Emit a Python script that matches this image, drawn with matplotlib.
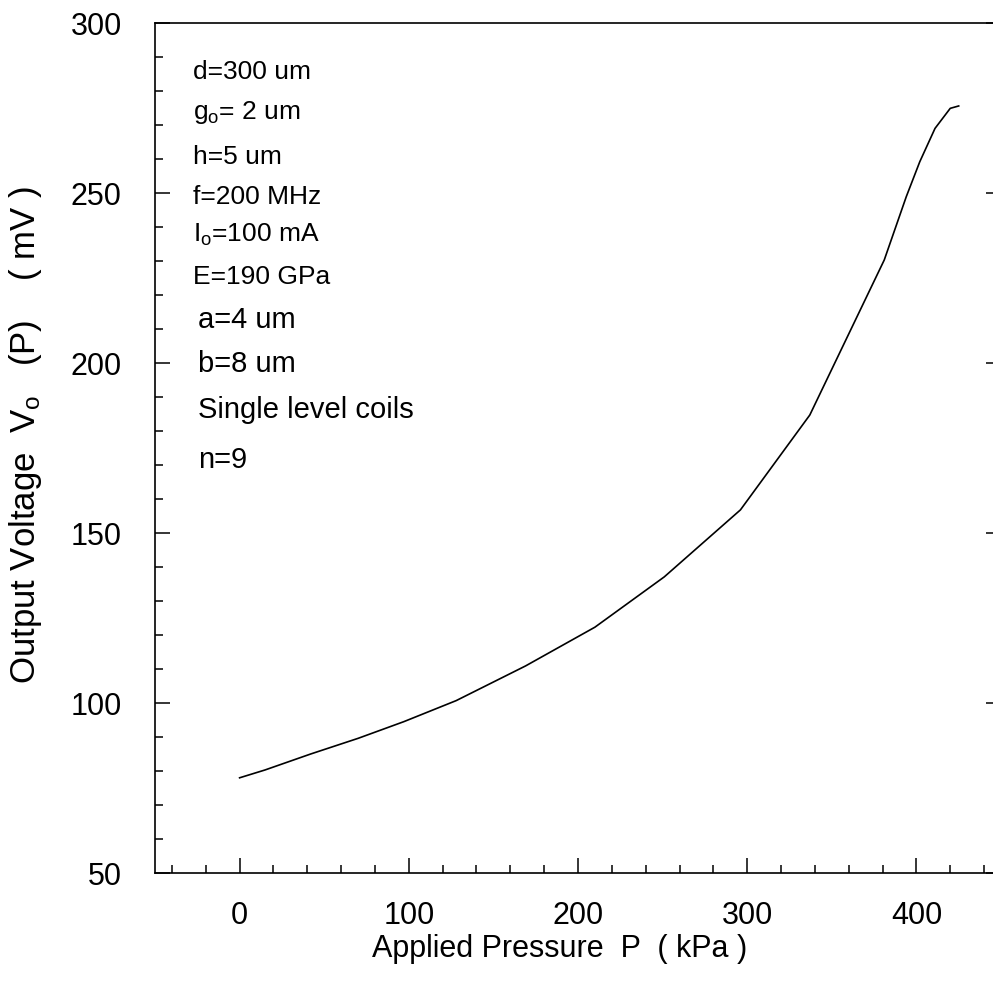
import matplotlib
matplotlib.use("Agg")
import matplotlib.pyplot as plt
from matplotlib.ticker import MultipleLocator

plt.rcParams['font.family'] = ['Liberation Sans', 'DejaVu Sans']
plt.rcParams['mathtext.fontset'] = 'custom'
plt.rcParams['mathtext.rm'] = 'Liberation Sans'
plt.rcParams['mathtext.it'] = 'Liberation Sans'

# data
pressure = [0, 15, 42, 70, 97, 128, 169, 210, 251, 296, 337, 381, 394, 402, 411, 420, 425]
voltage = [78.0, 80.3, 85.0, 89.6, 94.5, 100.7, 110.9, 122.3, 137.1, 156.8, 184.7, 230.3, 248.9, 259.2, 269.0, 274.9, 275.6]

x_ticks = [0, 100, 200, 300, 400]
y_ticks = [50, 100, 150, 200, 250, 300]

params_small = ["d=300 um", "g$_\\mathrm{o}$= 2 um", "h=5 um", "f=200 MHz",
                "I$_\\mathrm{o}$=100 mA", "E=190 GPa"]
params_large = ["a=4 um", "b=8 um", "Single level coils", "n=9"]

W, H = 993, 988
fig = plt.figure(figsize=(W / 100, H / 100), dpi=100)
L, R, T, B = 155, 1001, 23, 873
ax = fig.add_axes([L / W, (H - B) / H, (R - L) / W, (B - T) / H])

ax.plot(pressure, voltage, color='black', lw=1.2)
ax.set_xlim(-50, 450)
ax.set_ylim(50, 300)
ax.set_xticks(x_ticks)
ax.set_yticks(y_ticks)
ax.xaxis.set_minor_locator(MultipleLocator(20))
ax.yaxis.set_minor_locator(MultipleLocator(10))
ax.tick_params(which='both', direction='in', right=True, top=False, labelsize=22, width=1.1)
ax.tick_params(which='major', length=11)
ax.tick_params(which='minor', length=5.5)
ax.tick_params(axis='y', pad=24)
ax.tick_params(axis='x', pad=20)
for s in ax.spines.values():
    s.set_linewidth(1.2)

ax.set_xlabel("Applied Pressure  P  ( kPa )", fontsize=22)
ax.set_ylabel("Output Voltage  V$_\\mathrm{o}$   (P)    ( mV )", fontsize=25)
ax.xaxis.set_label_coords((560 - L) / (R - L), (B - 934) / (B - T))
ax.yaxis.set_label_coords((44 - L) / (R - L), (B - 435) / (B - T))

small_y = [72, 112, 157, 197, 235, 277]
for txt, py in zip(params_small, small_y):
    ax.text((193 - L) / (R - L), (B - py) / (B - T), txt, transform=ax.transAxes,
            fontsize=19, va='center', ha='left')
large_y = [320, 364, 410, 460]
for txt, py in zip(params_large, large_y):
    ax.text((198 - L) / (R - L), (B - py) / (B - T), txt, transform=ax.transAxes,
            fontsize=21, va='center', ha='left')

fig.savefig("out.png", dpi=100)
